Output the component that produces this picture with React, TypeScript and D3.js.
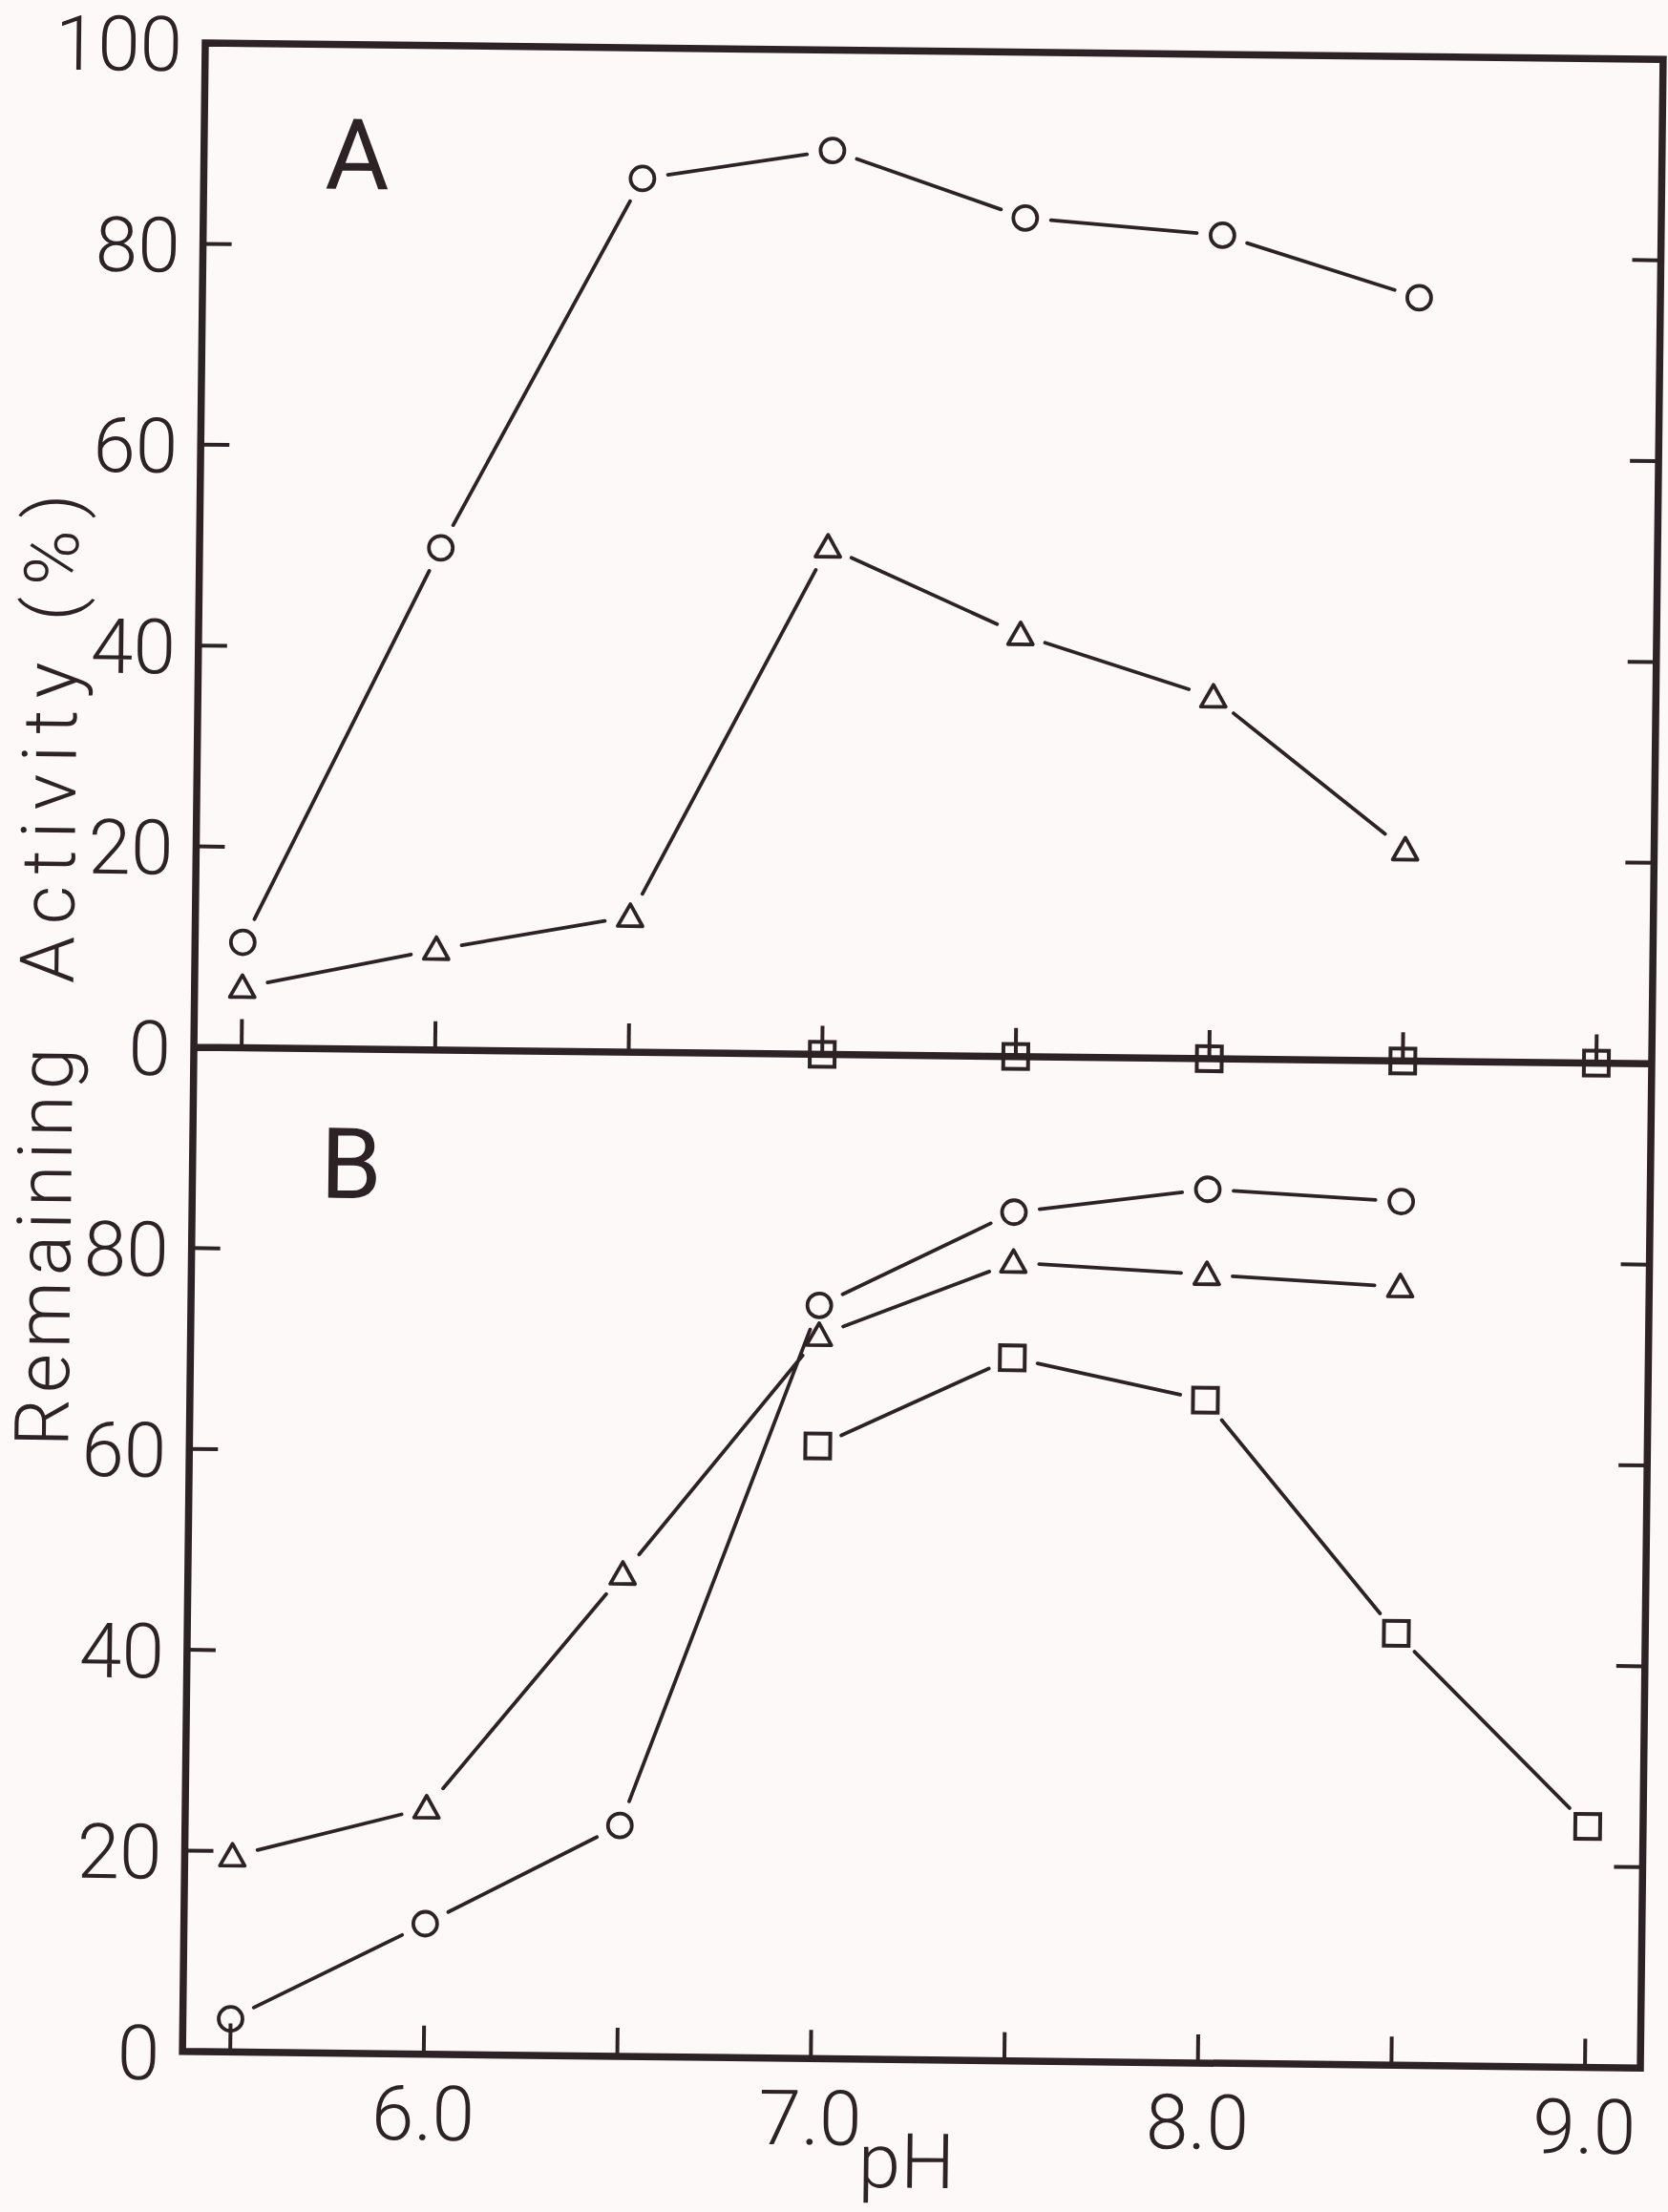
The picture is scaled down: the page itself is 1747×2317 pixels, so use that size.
import React from 'react';
import * as d3 from 'd3';

// ---- data ----
const PH_TICKS = [5.5, 6.0, 6.5, 7.0, 7.5, 8.0, 8.5, 9.0];
const PH_LABELS = [6.0, 7.0, 8.0, 9.0];
const Y_TICKS = [20, 40, 60, 80];
const Y_LABELS_A = [100, 80, 60, 40, 20, 0];
const Y_LABELS_B = [80, 60, 40, 20, 0];

const phMain = [5.5, 6.0, 6.5, 7.0, 7.5, 8.0, 8.5];
const phCirclesA = [5.5, 6.0, 6.51, 7.0, 7.5, 8.01, 8.52];
const circlesA = [10.5, 50, 87, 90, 83.5, 82, 76];
const trianglesA = [6, 10, 13.5, 50.5, 42, 36, 21];
const phSquares = [7.0, 7.5, 8.0, 8.5, 9.0];
const squaresA = [0, 0, 0, 0, 0];

const circlesB = [3.3, 13, 23, 75, 84.5, 87, 86];
const trianglesB = [19.5, 24.5, 48, 72, 79.5, 78.5, 77.5];
const squaresB = [61, 70, 66, 43, 24];

const INK = '#2d2226';
const BG = '#fdf9f9';
const FONT = "Roboto, 'DejaVu Sans', sans-serif";

type Pt = [number, number];

function gappedSegments(pts: Pt[], gap: number) {
  const segs: string[] = [];
  for (let i = 0; i < pts.length - 1; i++) {
    const [x1, y1] = pts[i];
    const [x2, y2] = pts[i + 1];
    const dx = x2 - x1, dy = y2 - y1;
    const L = Math.hypot(dx, dy);
    if (L <= 2 * gap) continue;
    const ux = dx / L, uy = dy / L;
    segs.push(
      `M${x1 + ux * gap},${y1 + uy * gap}L${x2 - ux * gap},${y2 - uy * gap}`
    );
  }
  return segs.join('');
}

const Circle = ({ cx, cy }: { cx: number; cy: number }) => (
  <circle cx={cx} cy={cy} r={12.5} fill="none" stroke={INK} strokeWidth={3.8} />
);
const Tri = ({ cx, cy }: { cx: number; cy: number }) => (
  <path
    d={`M${cx},${cy - 13}L${cx + 13},${cy + 10}L${cx - 13},${cy + 10}Z`}
    fill="none"
    stroke={INK}
    strokeWidth={3.8}
    strokeLinejoin="round"
  />
);
const Sq = ({ cx, cy }: { cx: number; cy: number }) => (
  <rect x={cx - 13} y={cy - 13} width={26} height={26} fill="none" stroke={INK} strokeWidth={4} />
);

export default function App() {
  const W = 1527;
  const H = 2104;
  const HP = 1052;
  const x = d3.scaleLinear().domain([5.5, 9.0]).range([50, 1469]);
  const yA = d3.scaleLinear().domain([0, 100]).range([HP, 0]);
  const yB = d3.scaleLinear().domain([0, 100]).range([H, HP]);
  const GAP = 27;
  const TL = 30;

  const ptsCA: Pt[] = phCirclesA.map((p, i) => [x(p), yA(circlesA[i])]);
  const ptsTA: Pt[] = phMain.map((p, i) => [x(p), yA(trianglesA[i])]);
  const ptsSA: Pt[] = phSquares.map((p, i) => [x(p), yA(squaresA[i])]);
  const ptsCB: Pt[] = phMain.map((p, i) => [x(p), yB(circlesB[i])]);
  const ptsTB: Pt[] = phMain.map((p, i) => [x(p), yB(trianglesB[i])]);
  const ptsSB: Pt[] = phSquares.map((p, i) => [x(p), yB(squaresB[i])]);

  const tickFont = { fontFamily: FONT, fontWeight: 300, fontSize: 80, fill: INK } as const;

  return (
    <svg
      width={1747}
      height={2317}
      style={{ position: 'absolute', left: 0, top: 0, display: 'block' }}
    >
      <rect x={0} y={0} width={1747} height={2317} fill={BG} />
      <g transform="translate(215,45) rotate(0.65)">
        {/* frame */}
        <path
          d={`M0,0H${W}V${H}H0Z M0,${HP}H${W}`}
          fill="none"
          stroke={INK}
          strokeWidth={7.5}
          strokeLinejoin="miter"
        />
        {/* x ticks on middle and bottom lines, pointing up */}
        {PH_TICKS.map((p) => (
          <g key={'xt' + p}>
            <line x1={x(p)} x2={x(p)} y1={HP} y2={HP - TL} stroke={INK} strokeWidth={4} />
            <line x1={x(p)} x2={x(p)} y1={H} y2={H - TL} stroke={INK} strokeWidth={4} />
          </g>
        ))}
        {/* y ticks, left and right, both panels */}
        {Y_TICKS.map((v) => (
          <g key={'yt' + v}>
            <line x1={0} x2={TL} y1={yA(v)} y2={yA(v)} stroke={INK} strokeWidth={4} />
            <line x1={W} x2={W - TL} y1={yA(v)} y2={yA(v)} stroke={INK} strokeWidth={4} />
            <line x1={0} x2={TL} y1={yB(v)} y2={yB(v)} stroke={INK} strokeWidth={4} />
            <line x1={W} x2={W - TL} y1={yB(v)} y2={yB(v)} stroke={INK} strokeWidth={4} />
          </g>
        ))}
        {/* y tick labels */}
        {Y_LABELS_A.map((v) => (
          <text key={'la' + v} x={-24} y={yA(v)} dy="0.37em" textAnchor="end" {...tickFont}>
            {v}
          </text>
        ))}
        {Y_LABELS_B.map((v) => (
          <text key={'lb' + v} x={-24} y={yB(v)} dy="0.37em" textAnchor="end" {...tickFont}>
            {v}
          </text>
        ))}
        {/* x tick labels */}
        {PH_LABELS.map((p) => (
          <text key={'xl' + p} x={x(p)} y={H + 90} textAnchor="middle" {...tickFont}>
            {p.toFixed(1)}
          </text>
        ))}
        <text x={x(7.25)} y={H + 134} textAnchor="middle" {...tickFont}>
          pH
        </text>
        {/* y axis title */}
        <text
          transform={`translate(-127,1472) rotate(-90)`}
          textAnchor="start"
          {...tickFont}
          fontSize={79}
          letterSpacing={6}
        >
          Remaining
        </text>
        <text
          transform={`translate(-127,462) rotate(-90)`}
          textAnchor="end"
          {...tickFont}
          fontSize={79}
          letterSpacing={12}
        >
          Activity (%)
        </text>
        {/* panel letters */}
        <text x={127} y={151} fontFamily={FONT} fontWeight={400} fontSize={103} fill={INK}>
          A
        </text>
        <text x={134} y={1208} fontFamily={FONT} fontWeight={400} fontSize={103} fill={INK}>
          B
        </text>

        {/* connecting lines with gaps */}
        <path
          d={
            gappedSegments(ptsCA, GAP) +
            gappedSegments(ptsTA, GAP) +
            gappedSegments(ptsCB, GAP) +
            gappedSegments(ptsTB, GAP) +
            gappedSegments(ptsSB, GAP)
          }
          fill="none"
          stroke={INK}
          strokeWidth={3.8}
          strokeLinecap="round"
        />
        {/* markers */}
        {ptsCA.map(([cx, cy], i) => <Circle key={'ca' + i} cx={cx} cy={cy} />)}
        {ptsTA.map(([cx, cy], i) => <Tri key={'ta' + i} cx={cx} cy={cy} />)}
        {ptsSA.map(([cx, cy], i) => <Sq key={'sa' + i} cx={cx} cy={cy} />)}
        {ptsCB.map(([cx, cy], i) => <Circle key={'cb' + i} cx={cx} cy={cy} />)}
        {ptsTB.map(([cx, cy], i) => <Tri key={'tb' + i} cx={cx} cy={cy} />)}
        {ptsSB.map(([cx, cy], i) => <Sq key={'sb' + i} cx={cx} cy={cy} />)}
      </g>
    </svg>
  );
}
